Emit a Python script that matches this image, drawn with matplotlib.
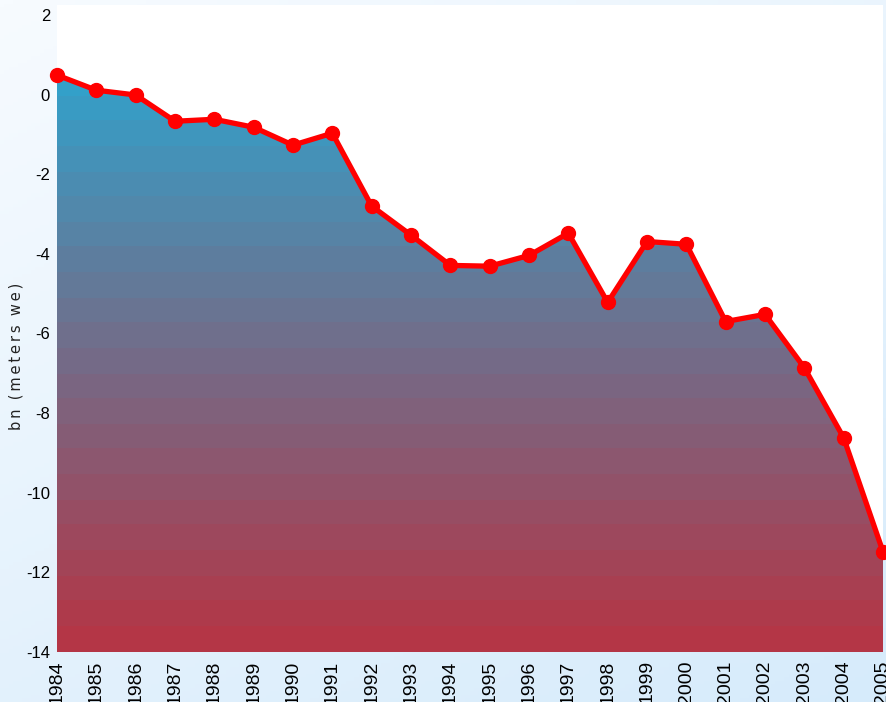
import numpy as np
import matplotlib
matplotlib.use("Agg")
import matplotlib.pyplot as plt
from matplotlib.colors import LinearSegmentedColormap
from matplotlib.patches import Polygon

years = list(range(1984, 2006))
balance = [0.49, 0.11, -0.01, -0.67, -0.62, -0.82, -1.27, -0.97, -2.80, -3.53,
           -4.29, -4.31, -4.04, -3.48, -5.22, -3.69, -3.76, -5.70, -5.52, -6.86,
           -8.62, -11.48]
y_ticks = [2, 0, -2, -4, -6, -8, -10, -12, -14]
y_label = "b\u2009n  (\u2009m\u2009e\u2009t\u2009e\u2009r\u2009s  w\u2009e\u2009)"

W, H = 886, 702
fig = plt.figure(figsize=(W / 100, H / 100), dpi=100)

# figure background gradient
bg = fig.add_axes([0, 0, 1, 1], zorder=-10)
gx, gy = np.meshgrid(np.linspace(0, 1, 200), np.linspace(0, 1, 200))
g = (gx * 0.5 + gy * 0.8) / 1.3
bg_cmap = LinearSegmentedColormap.from_list("bg", ["#f7fbff", "#d6ebfb"])
bg.imshow(g, cmap=bg_cmap, aspect="auto", extent=[0, 1, 1, 0])
bg.set_axis_off()

x0, x1 = 57 / W, 883 / W
y0, y1 = (H - 652) / H, (H - 5) / H
ax = fig.add_axes([x0, y0, x1 - x0, y1 - y0])
ax.set_facecolor("white")
ymin, ymax = -14, 2.25
ax.set_xlim(years[0], years[-1])
ax.set_ylim(ymin, ymax)

# gradient fill (banded)
cmap = LinearSegmentedColormap.from_list("fill", ["#2ea5cf", "#726d8a", "#b43646"])
top_v = 1.25
nb = 24
levels = np.linspace(top_v, ymin, 400)
q = np.floor((top_v - levels) / (top_v - ymin) * nb) / (nb - 1)
q = np.clip(q, 0, 1)
img = ax.imshow(q[:, None], cmap=cmap, aspect="auto",
                extent=[years[0], years[-1], ymin, top_v], zorder=1,
                interpolation="nearest")
verts = [(years[0], ymin)] + list(zip(years, balance)) + [(years[-1], ymin)]
poly = Polygon(verts, closed=True, transform=ax.transData, facecolor="none", edgecolor="none")
ax.add_patch(poly)
img.set_clip_path(poly)

ax.plot(years, balance, color="#ff0000", lw=3.8, marker="o", ms=10,
        zorder=5, clip_on=False, solid_joinstyle="round")

for s in ax.spines.values():
    s.set_visible(False)

ax.set_xticks(years)
ax.set_xticklabels([str(y) for y in years], rotation=90, fontsize=14,
                   family=["Liberation Sans", "DejaVu Sans"], va="top")
ax.set_yticks(y_ticks)
ax.set_yticklabels([str(t) for t in y_ticks], fontsize=12,
                   family=["Liberation Sans", "DejaVu Sans"])
ax.tick_params(length=0)
ax.tick_params(axis="y", pad=5)
ax.tick_params(axis="x", pad=6)
ax.set_xlim(years[0], years[-1])
ax.set_ylim(ymin, ymax)

fig.text(16 / W, 1 - 356 / H, y_label, rotation=90, ha="center", va="center",
         fontsize=10.5, family="DejaVu Sans", color="#222222")

fig.savefig("out.png", dpi=100)
